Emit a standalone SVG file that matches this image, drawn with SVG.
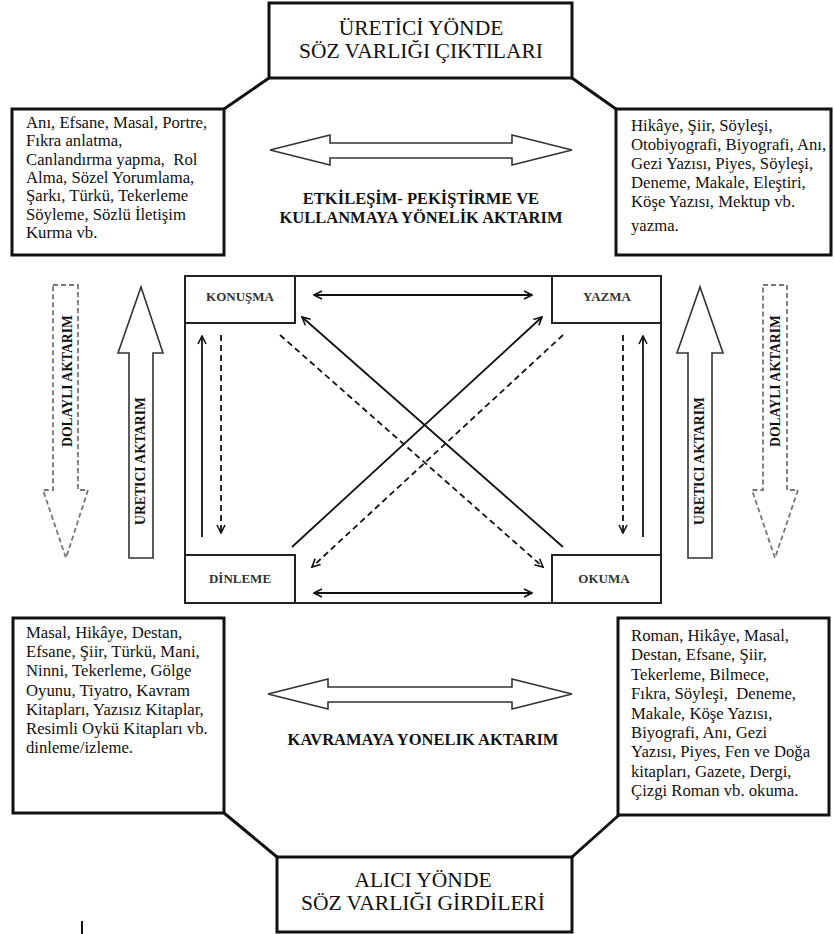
<svg xmlns="http://www.w3.org/2000/svg" width="834" height="934" viewBox="0 0 834 934" font-family="Liberation Serif, Times New Roman, Tinos, Noto Serif, serif">
<style>
.box{fill:#fff;stroke:#111;stroke-width:3}
.thin{fill:none;stroke:#222;stroke-width:2}
.title{font-size:21.5px;fill:#111;text-anchor:middle}
.body{font-size:16.7px;fill:#111}
.lab{font-size:16.5px;font-weight:bold;fill:#111;text-anchor:middle}
.node{font-size:13px;font-weight:bold;fill:#333;text-anchor:middle}
.side{font-size:13.7px;font-weight:bold;fill:#111;text-anchor:middle}
.conn{stroke:#111;stroke-width:3;fill:none}
.sol{stroke:#111;stroke-width:1.8;fill:none}
.dash{stroke:#111;stroke-width:1.8;fill:none;stroke-dasharray:6 4}
.hollow{fill:#fff;stroke:#333;stroke-width:1.6}
.hollowd{fill:#fff;stroke:#777;stroke-width:1.8;stroke-dasharray:5 3}
</style>
<defs>
<marker id="ah" markerWidth="10" markerHeight="10" refX="9" refY="5" orient="auto-start-reverse" markerUnits="userSpaceOnUse">
<path d="M1,1 L9,5 L1,9" fill="none" stroke="#111" stroke-width="1.6"/>
</marker>
</defs>
<rect width="834" height="934" fill="#fff"/>

<g id="connectors">
<line class="conn" x1="269" y1="78" x2="224" y2="109"/>
<line class="conn" x1="572" y1="78" x2="616" y2="109"/>
<line class="conn" x1="224" y1="813" x2="277" y2="857"/>
<line class="conn" x1="619" y1="815" x2="572" y2="857"/>
<line class="sol" x1="314" y1="295" x2="532" y2="295" marker-start="url(#ah)" marker-end="url(#ah)"/>
<line class="sol" x1="314" y1="593" x2="532" y2="593" marker-start="url(#ah)" marker-end="url(#ah)"/>
<line class="sol" x1="202" y1="537" x2="202" y2="336" marker-end="url(#ah)"/>
<line class="dash" x1="221" y1="335" x2="221" y2="533" marker-end="url(#ah)"/>
<line class="dash" x1="623" y1="335" x2="623" y2="533" marker-end="url(#ah)"/>
<line class="sol" x1="643" y1="537" x2="643" y2="336" marker-end="url(#ah)"/>
<line class="sol" x1="563" y1="547" x2="302" y2="317" marker-end="url(#ah)"/>
<line class="sol" x1="292" y1="547" x2="542" y2="317" marker-end="url(#ah)"/>
<line class="dash" x1="280" y1="335" x2="543" y2="567" marker-end="url(#ah)"/>
<line class="dash" x1="563" y1="335" x2="312" y2="567" marker-end="url(#ah)"/>
<polygon class="hollow" points="270,150 330,135 330,143 512,143 512,135 572,150 512,165 512,158 330,158 330,165"/>
<polygon class="hollow" points="268,694 328,679 328,687 512,687 512,679 572,694 512,709 512,702 328,702 328,709"/>
<polygon class="hollowd" points="53,285 78,285 78,490 88,490 66,558 43,490 53,490"/>
<polygon class="hollow" points="129,558 153,558 153,353 163,353 141,287 118,353 129,353"/>
<polygon class="hollow" points="688,558 712,558 712,353 723,353 700,287 677,353 688,353"/>
<polygon class="hollowd" points="763,285 787,285 787,490 798,490 775,558 752,490 763,490"/>
<text class="side" transform="translate(67,381) rotate(-90)" y="5">DOLAYLI AKTARIM</text>
<text class="side" transform="translate(140,461) rotate(-90)" y="5">URETICI AKTARIM</text>
<text class="side" transform="translate(699,461) rotate(-90)" y="5">URETICI AKTARIM</text>
<text class="side" transform="translate(775,381) rotate(-90)" y="5">DOLAYLI AKTARIM</text>
<text class="lab" x="421" y="204">ETKİLEŞİM- PEKİŞTİRME VE</text>
<text class="lab" x="421" y="223">KULLANMAYA YÖNELİK AKTARIM</text>
<text class="lab" x="423" y="745">KAVRAMAYA YONELIK AKTARIM</text>
<line x1="82" y1="921" x2="82" y2="934" stroke="#111" stroke-width="2"/>
</g>

<g id="frame">
<rect class="thin" x="185" y="276" width="476" height="327"/>
</g>

<g id="top-title">
<rect class="box" x="269" y="3" width="303" height="75"/>
<text class="title" x="421" y="35">ÜRETİCİ YÖNDE</text>
<text class="title" x="421" y="58">SÖZ VARLIĞI ÇIKTILARI</text>
</g>

<g id="bottom-title">
<rect class="box" x="277" y="857" width="295" height="75"/>
<text class="title" x="423" y="887">ALICI YÖNDE</text>
<text class="title" x="423" y="910">SÖZ VARLIĞI GİRDİLERİ</text>
</g>

<g id="top-left">
<rect class="box" x="12" y="109" width="212" height="146"/>
<text class="body" x="26" y="128">Anı, Efsane, Masal, Portre,</text>
<text class="body" x="26" y="146.3">Fıkra anlatma,</text>
<text class="body" x="26" y="164.6">Canlandırma yapma,&#160; Rol</text>
<text class="body" x="26" y="182.9">Alma, Sözel Yorumlama,</text>
<text class="body" x="26" y="201.2">Şarkı, Türkü, Tekerleme</text>
<text class="body" x="26" y="219.5">Söyleme, Sözlü İletişim</text>
<text class="body" x="26" y="237.8">Kurma vb.</text>
</g>

<g id="top-right">
<rect class="box" x="616" y="109" width="215" height="146"/>
<text class="body" x="631" y="131">Hikâye, Şiir, Söyleşi,</text>
<text class="body" x="631" y="150">Otobiyografi, Biyografi, Anı,</text>
<text class="body" x="631" y="169">Gezi Yazısı, Piyes, Söyleşi,</text>
<text class="body" x="631" y="188">Deneme, Makale, Eleştiri,</text>
<text class="body" x="631" y="207">Köşe Yazısı, Mektup vb.</text>
<text class="body" x="631" y="231">yazma.</text>
</g>

<g id="bottom-left">
<rect class="box" x="13" y="618" width="211" height="195"/>
<text class="body" x="26" y="638">Masal, Hikâye, Destan,</text>
<text class="body" x="26" y="657.2">Efsane, Şiir, Türkü, Mani,</text>
<text class="body" x="26" y="676.4">Ninni, Tekerleme, Gölge</text>
<text class="body" x="26" y="695.6">Oyunu, Tiyatro, Kavram</text>
<text class="body" x="26" y="714.8">Kitapları, Yazısız Kitaplar,</text>
<text class="body" x="26" y="734">Resimli Oykü Kitapları vb.</text>
<text class="body" x="26" y="753.2">dinleme/izleme.</text>
</g>

<g id="bottom-right">
<rect class="box" x="618" y="618" width="211" height="197"/>
<text class="body" x="631" y="641">Roman, Hikâye, Masal,</text>
<text class="body" x="631" y="660.4">Destan, Efsane, Şiir,</text>
<text class="body" x="631" y="679.8">Tekerleme, Bilmece,</text>
<text class="body" x="631" y="699.2">Fıkra, Söyleşi,&#160; Deneme,</text>
<text class="body" x="631" y="718.6">Makale, Köşe Yazısı,</text>
<text class="body" x="631" y="738">Biyografi, Anı, Gezi</text>
<text class="body" x="631" y="757.4">Yazısı, Piyes, Fen ve Doğa</text>
<text class="body" x="631" y="776.8">kitapları, Gazete, Dergi,</text>
<text class="body" x="631" y="796.2">Çizgi Roman vb. okuma.</text>
</g>

<g id="konusma">
<rect class="thin" x="185" y="276" width="110" height="47"/>
<text class="node" x="240" y="301">KONUŞMA</text>
</g>
<g id="yazma">
<rect class="thin" x="552" y="276" width="109" height="47"/>
<text class="node" x="607" y="301">YAZMA</text>
</g>
<g id="dinleme">
<rect class="thin" x="185" y="555" width="110" height="48"/>
<text class="node" x="240" y="583">DİNLEME</text>
</g>
<g id="okuma">
<rect class="thin" x="552" y="555" width="109" height="48"/>
<text class="node" x="604" y="583">OKUMA</text>
</g>
</svg>
